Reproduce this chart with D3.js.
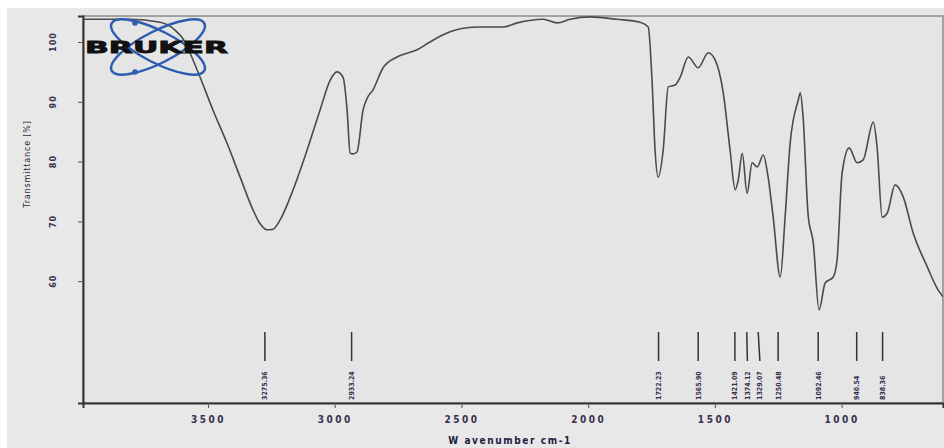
<!DOCTYPE html>
<html>
<head>
<meta charset="utf-8">
<script src="https://cdn.jsdelivr.net/npm/d3@7"></script>
<style>
  body { margin: 0; background: #fff; }
  svg { display: block; }
</style>
</head>
<body>
<div id="chart"></div>
<script>
// spectrum (cm-1, % transmittance)
const wavenumber = [3993, 3808, 3689, 3630, 3590, 3571, 3531, 3480, 3425, 3373, 3322, 3294, 3267, 3243, 3216,
  3164, 3109, 3058, 3018, 2991, 2967, 2951, 2939, 2927, 2912, 2888, 2872, 2849, 2809, 2754, 2675, 2624,
  2557, 2493, 2426, 2336, 2280, 2178, 2122, 2071, 1993, 1886, 1795, 1763, 1748, 1736, 1724, 1704, 1684,
  1657, 1637, 1605, 1566, 1526, 1499, 1467, 1440, 1420, 1408, 1392, 1373, 1353, 1333, 1309, 1290, 1270,
  1242, 1223, 1203, 1171, 1163, 1152, 1132, 1112, 1089, 1065, 1033, 1018, 998, 970, 939, 915, 875, 860,
  840, 820, 789, 757, 718, 662, 619, 600];
const transmittance = [103.8, 103.8, 103.3, 102.0, 100, 98.2, 94.1, 88.6, 83.1, 77.4, 71.9, 69.6, 68.6, 68.7, 70.2,
  75.3, 81.9, 88.6, 93.6, 95.0, 94.1, 88.6, 81.4, 81.3, 81.6, 88.6, 90.6, 92.0, 95.7, 97.5, 98.7, 100,
  101.5, 102.3, 102.5, 102.5, 103.2, 103.8, 103.2, 103.8, 104.2, 103.8, 103.3, 102.5, 93.6, 81.9, 77.4, 81.9, 92.5,
  92.8, 94.1, 97.5, 95.7, 98.2, 97.0, 91.5, 81.9, 75.3, 76.9, 81.4, 74.7, 79.8, 79.1, 81.1, 77.4, 70.7,
  60.7, 70.7, 83.1, 90.3, 91.5, 87.5, 71.0, 66.5, 55.2, 59.7, 60.7, 63.5, 78.1, 82.3, 79.8, 80.3, 86.6, 82.4,
  70.7, 71.4, 76.1, 74.1, 68.1, 62.4, 58.5, 57.4];

const peakLabels = ["3275.36", "2933.24", "1722.23", "1565.90", "1421.09", "1374.12", "1329.07",
  "1250.48", "1092.46", "940.54", "838.36"];
const xTicks = [3500, 3000, 2500, 2000, 1500, 1000];
const yTicks = [60, 70, 80, 90, 100];

const width = 944, height = 448;
const margin = {top: 16, right: 1, bottom: 45, left: 83};
const font = "DejaVu Sans Condensed, sans-serif";

const svg = d3.select("#chart").append("svg")
  .attr("width", width)
  .attr("height", height);

// grey panel
svg.append("rect")
  .attr("x", 7).attr("y", 8)
  .attr("width", width - 7).attr("height", height - 8)
  .attr("fill", "#e8e8e8");

const x = d3.scaleLinear().domain([3993, 600]).range([margin.left, width - margin.right]);
const y = d3.scaleLinear().domain([39.63, 104.35]).range([height - margin.bottom, margin.top]);

const plotW = width - margin.left - margin.right;
const plotH = height - margin.top - margin.bottom;

svg.append("rect")
  .attr("x", margin.left).attr("y", margin.top)
  .attr("width", plotW).attr("height", plotH)
  .attr("fill", "#e5e5e5")
  .attr("stroke", "#8a8a8a")
  .attr("stroke-width", 1.5);

svg.append("clipPath").attr("id", "clip")
  .append("rect")
  .attr("x", margin.left).attr("y", margin.top)
  .attr("width", plotW).attr("height", plotH);

// axes
const xAxis = svg.append("g")
  .attr("transform", `translate(0, ${height - margin.bottom})`)
  .call(d3.axisBottom(x).tickValues(xTicks).tickSize(5).tickPadding(8).tickFormat(d3.format("d")));
const yAxis = svg.append("g")
  .attr("transform", `translate(${margin.left}, 0)`)
  .call(d3.axisLeft(y).tickValues(yTicks).tickSize(5).tickFormat(""));

[xAxis, yAxis].forEach(g => {
  g.select(".domain").attr("stroke", "#333").attr("stroke-width", 2);
  g.selectAll(".tick line").attr("stroke", "#555");
});

xAxis.selectAll(".tick text")
  .attr("font-family", font)
  .attr("font-weight", "bold")
  .attr("font-size", 10)
  .attr("letter-spacing", 2.5)
  .attr("fill", "#3a3050");

// rotated y tick labels
svg.append("g").selectAll("text")
  .data(yTicks)
  .enter()
  .append("text")
  .attr("transform", d => `translate(53, ${y(d)}) rotate(-90)`)
  .attr("text-anchor", "middle")
  .attr("dy", "0.35em")
  .attr("font-family", font)
  .attr("font-weight", "bold")
  .attr("font-size", 9)
  .attr("letter-spacing", 1)
  .attr("fill", "#3a3050")
  .text(d => d);

svg.append("text")
  .attr("transform", `translate(27, 164) rotate(-90)`)
  .attr("text-anchor", "middle")
  .attr("dy", "0.35em")
  .attr("font-family", font)
  .attr("font-size", 9)
  .attr("letter-spacing", 0.8)
  .attr("fill", "#2a2a3a")
  .text("Transmittance [%]");

svg.append("text")
  .attr("x", 510)
  .attr("y", 444)
  .attr("text-anchor", "middle")
  .attr("font-family", font)
  .attr("font-weight", "bold")
  .attr("font-size", 10)
  .attr("letter-spacing", 1.6)
  .attr("fill", "#202040")
  .text("W avenumber cm-1");

// spectrum
const data = wavenumber.map((w, i) => ({w: w, t: transmittance[i]}));
const line = d3.line()
  .x(d => x(d.w))
  .y(d => y(d.t))
  .curve(d3.curveMonotoneX);

svg.append("path")
  .datum(data)
  .attr("clip-path", "url(#clip)")
  .attr("fill", "none")
  .attr("stroke", "#4a4a4a")
  .attr("stroke-width", 1.6)
  .attr("d", line);

// peak markers, labels pushed apart when crowded
let lastX = -Infinity;
const peaks = peakLabels.map(s => {
  const px = x(+s);
  const lx = Math.max(px, lastX + 12.5);
  lastX = lx;
  return {label: s, px: px, lx: lx};
});

const peakG = svg.append("g");
peakG.selectAll("line")
  .data(peaks)
  .enter()
  .append("line")
  .attr("x1", d => d.px).attr("y1", 332)
  .attr("x2", d => d.lx).attr("y2", 361)
  .attr("stroke", "#333")
  .attr("stroke-width", 1.5);

peakG.selectAll("text")
  .data(peaks)
  .enter()
  .append("text")
  .attr("transform", d => `translate(${d.lx}, 400) rotate(-90)`)
  .attr("dy", "0.35em")
  .attr("font-family", font)
  .attr("font-weight", "bold")
  .attr("font-size", 7)
  .attr("fill", "#3a3050")
  .text(d => d.label);

// Bruker logo
const logo = svg.append("g");
[-27, 27].forEach(a => {
  logo.append("ellipse")
    .attr("cx", 158).attr("cy", 47)
    .attr("rx", 52).attr("ry", 16)
    .attr("transform", `rotate(${a}, 158, 47)`)
    .attr("fill", "none")
    .attr("stroke", "#2d5cb0")
    .attr("stroke-width", 2.5);
});
[[135, 23], [135, 72]].forEach(p => {
  logo.append("circle").attr("cx", p[0]).attr("cy", p[1]).attr("r", 2.8).attr("fill", "#2d5cb0");
});
logo.append("text")
  .attr("x", 85).attr("y", 53)
  .attr("font-family", "DejaVu Sans, sans-serif")
  .attr("font-weight", "bold")
  .attr("font-size", 16)
  .attr("stroke", "#111")
  .attr("stroke-width", 0.8)
  .attr("textLength", 143)
  .attr("lengthAdjust", "spacingAndGlyphs")
  .attr("fill", "#111")
  .text("BRUKER");
</script>
</body>
</html>
